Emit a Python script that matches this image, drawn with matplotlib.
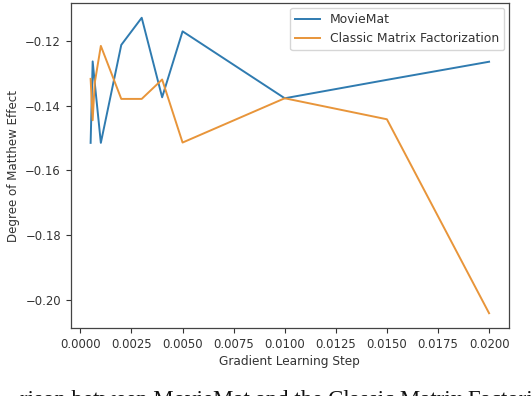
import matplotlib
matplotlib.use("Agg")
import matplotlib.pyplot as plt

steps = [0.0005, 0.0006, 0.0007, 0.001, 0.002, 0.003, 0.004, 0.005, 0.01, 0.015, 0.02]
moviemat = [-0.1515, -0.1263, -0.1328, -0.1515, -0.1212, -0.1128, -0.1374, -0.1170, -0.1377, -0.1320, -0.1264]
classic_mf = [-0.1317, -0.1445, -0.1330, -0.1215, -0.1379, -0.1379, -0.1319, -0.1514, -0.1377, -0.1442, -0.2042]

x_ticks = [0.0, 0.0025, 0.005, 0.0075, 0.01, 0.0125, 0.015, 0.0175, 0.02]
y_ticks = [-0.20, -0.18, -0.16, -0.14, -0.12]

caption = "rison between MovieMat and the Classic Matrix Factori"

plt.rcParams['font.family'] = ['DejaVu Sans']
fig = plt.figure(figsize=(5.32, 3.96), dpi=100)
ax = fig.add_axes([70.7/532, 1-328/396, (509-70.7)/532, (328-3)/396])

ax.plot(steps, moviemat, color='#2f7bb0', lw=1.4, label='MovieMat')
ax.plot(steps, classic_mf, color='#e8953a', lw=1.4, label='Classic Matrix Factorization')

ax.set_xticks(x_ticks)
ax.set_xticklabels([f"{t:.4f}" for t in x_ticks])
ax.set_yticks(y_ticks)
ax.set_yticklabels([f"\u2212{abs(t):.2f}" for t in y_ticks])
ax.tick_params(labelsize=8.4, colors='#333333', length=3.5, width=0.8)
for s in ax.spines.values():
    s.set_color('#444444')
    s.set_linewidth(0.9)
ax.set_xlabel('Gradient Learning Step', fontsize=8.7, color='#333333', labelpad=3)
ax.set_ylabel('Degree of Matthew Effect', fontsize=8.6, color='#333333', labelpad=4)
ax.legend(loc='upper right', fontsize=8.9, frameon=True, framealpha=0.8, edgecolor='#cccccc',
          labelcolor='#333333', handlelength=2.0, borderaxespad=0.4)

fig.text(533/532, 1-406/396, caption, fontsize=16.5, family='Liberation Serif',
         color='#111111', ha='right', va='baseline')

fig.savefig('out.png', dpi=100)
